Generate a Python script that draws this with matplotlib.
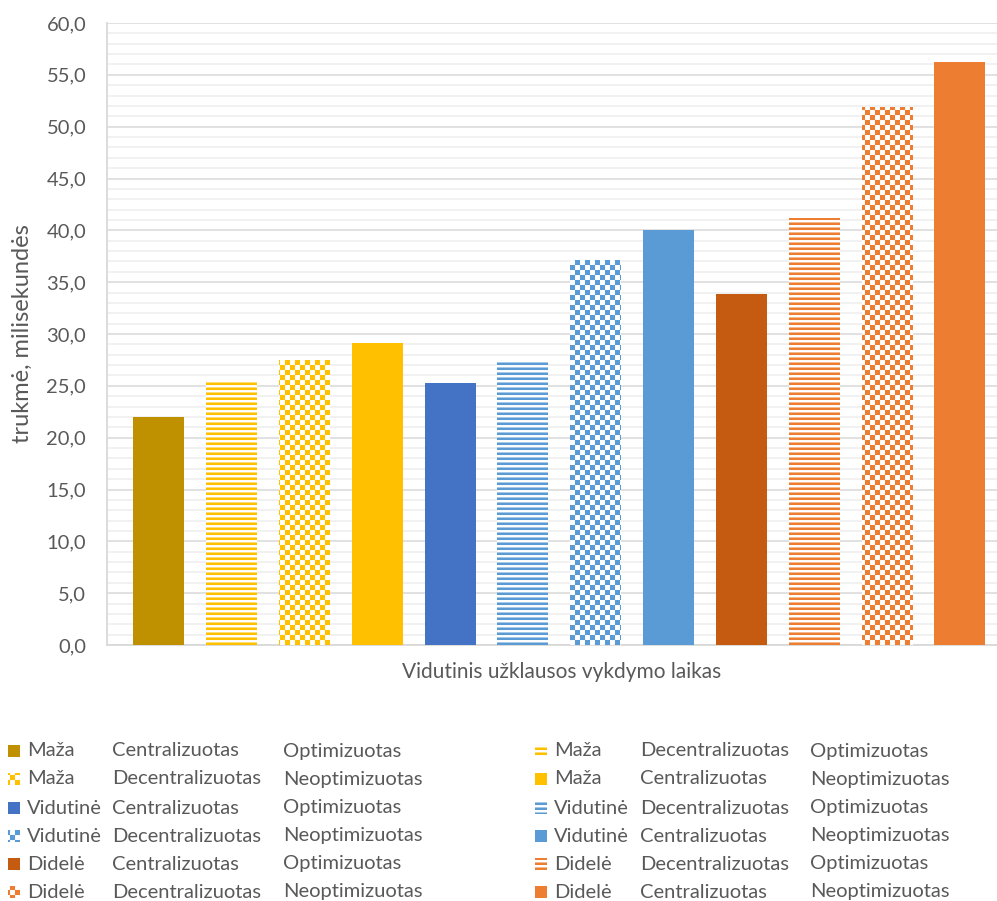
import warnings
import matplotlib
matplotlib.use("Agg")
import matplotlib.pyplot as plt
import matplotlib.hatch as mhatch
from matplotlib.path import Path
from matplotlib.patches import Rectangle
from matplotlib.ticker import MultipleLocator, FuncFormatter

warnings.filterwarnings("ignore")

# ---- data -------------------------------------------------------------
sizes = ["Maža", "Maža", "Maža", "Maža",
         "Vidutinė", "Vidutinė", "Vidutinė", "Vidutinė",
         "Didelė", "Didelė", "Didelė", "Didelė"]
architectures = ["Centralizuotas", "Decentralizuotas", "Decentralizuotas", "Centralizuotas",
                 "Centralizuotas", "Decentralizuotas", "Decentralizuotas", "Centralizuotas",
                 "Centralizuotas", "Decentralizuotas", "Decentralizuotas", "Centralizuotas"]
optimization = ["Optimizuotas", "Optimizuotas", "Neoptimizuotas", "Neoptimizuotas",
                "Optimizuotas", "Optimizuotas", "Neoptimizuotas", "Neoptimizuotas",
                "Optimizuotas", "Optimizuotas", "Neoptimizuotas", "Neoptimizuotas"]
durations_ms = [22.0, 25.5, 27.5, 29.1, 25.3, 27.4, 37.1, 40.0, 33.9, 41.2, 51.9, 56.2]

colors = ["#BF9000", "#FFC000", "#FFC000", "#FFC000",
          "#4472C4", "#5B9BD5", "#5B9BD5", "#5B9BD5",
          "#C55A11", "#ED7D31", "#ED7D31", "#ED7D31"]
# "solid", "stripes" or "checker"
fills = ["solid", "stripes", "checker", "solid",
         "solid", "stripes", "checker", "solid",
         "solid", "stripes", "checker", "solid"]

x_title = "Vidutinis užklausos vykdymo laikas"
y_title = "trukmė, milisekundės"


# ---- custom filled hatch patterns --------------------------------------
class CheckerHatch(mhatch.HatchPatternBase):
    """Filled checkerboard; each 'c' adds four cells per tile row."""

    def __init__(self, hatch, density):
        self.cells = 4 * hatch.count("c")
        self.num_vertices = (self.cells * self.cells // 2) * 5

    def set_vertices_and_codes(self, vertices, codes):
        n = self.cells
        s = 1.0 / n
        k = 0
        for i in range(n):
            for j in range(n):
                if (i + j) % 2:
                    continue
                x0, y0 = j * s, i * s
                vertices[k:k + 5] = [(x0, y0), (x0 + s, y0), (x0 + s, y0 + s),
                                     (x0, y0 + s), (x0, y0)]
                codes[k:k + 5] = [Path.MOVETO, Path.LINETO, Path.LINETO,
                                  Path.LINETO, Path.CLOSEPOLY]
                k += 5


class StripeHatch(mhatch.HatchPatternBase):
    """Filled horizontal stripes; each 'h' adds four stripes per tile."""

    def __init__(self, hatch, density):
        self.lines = 4 * hatch.count("h")
        self.num_vertices = self.lines * 5

    def set_vertices_and_codes(self, vertices, codes):
        n = self.lines
        s = 1.0 / n
        for i in range(n):
            y0 = i * s
            vertices[5 * i:5 * i + 5] = [(0, y0), (1, y0), (1, y0 + s * 0.5),
                                         (0, y0 + s * 0.5), (0, y0)]
            codes[5 * i:5 * i + 5] = [Path.MOVETO, Path.LINETO, Path.LINETO,
                                      Path.LINETO, Path.CLOSEPOLY]


mhatch._hatch_types.extend([CheckerHatch, StripeHatch])
hatch_for = {"solid": None, "stripes": "hhhhh", "checker": "ccccc"}

plt.rcParams["font.family"] = ["Lato", "DejaVu Sans"]
plt.rcParams["hatch.linewidth"] = 0.05

W, H = 997, 901
fig = plt.figure(figsize=(W / 100, H / 100), dpi=100)
ax = fig.add_axes([107 / W, 1 - 645 / H, 890 / W, 622 / H])

text_col = "#595959"


def style_kwargs(color, fill):
    if fill == "solid":
        return dict(facecolor=color, edgecolor=color, linewidth=0)
    return dict(facecolor="white", edgecolor=color, linewidth=0,
                hatch=hatch_for[fill])


positions = list(range(len(durations_ms)))
for i, (val, col, fl) in enumerate(zip(durations_ms, colors, fills)):
    ax.bar(positions[i], val, width=0.70, zorder=3, **style_kwargs(col, fl))

ax.set_xlim(-0.71, len(durations_ms) - 1 + 0.51)
ax.set_ylim(0, 60)
ax.yaxis.set_major_locator(MultipleLocator(5))
ax.yaxis.set_minor_locator(MultipleLocator(1))
ax.yaxis.set_major_formatter(FuncFormatter(lambda v, p: f"{v:.1f}".replace(".", ",")))
ax.grid(which="major", axis="y", color="#d9d9d9", linewidth=1.1, zorder=1)
ax.grid(which="minor", axis="y", color="#eeeeee", linewidth=1.1, zorder=0)
ax.set_axisbelow(True)
ax.set_xticks([])
ax.tick_params(axis="y", which="both", length=0, pad=15,
               labelsize=14.5, labelcolor=text_col)
for side in ("top", "right"):
    ax.spines[side].set_visible(False)
for side in ("left", "bottom"):
    ax.spines[side].set_color("#d9d9d9")
    ax.spines[side].set_linewidth(1.3)

ax.set_xlabel(x_title, fontsize=15, color=text_col)
ax.xaxis.set_label_coords(0.511, -0.028)
ax.set_ylabel(y_title, fontsize=17, color=text_col)
ax.yaxis.set_label_coords(-0.083, 0.5)

# ---- legend: two columns, entries listed row by row --------------------
row_y = [751, 779, 808, 836, 864, 892]
col_sets = [dict(box=8, t1=27, t2=112, t3=283), dict(box=535, t1=554, t2=640, t3=810)]
box = 12
for i in range(len(durations_ms)):
    row, col = divmod(i, 2)
    c = col_sets[col]
    yc = row_y[row]
    rect = Rectangle((c["box"] / W, 1 - (yc + box / 2) / H), box / W, box / H,
                     transform=fig.transFigure, **style_kwargs(colors[i], fills[i]))
    fig.add_artist(rect)
    for key, word in zip(("t1", "t2", "t3"), (sizes[i], architectures[i], optimization[i])):
        fig.text(c[key] / W, 1 - yc / H, word, fontsize=14.5, color=text_col,
                 ha="left", va="center")

fig.savefig("out.png", dpi=100)
